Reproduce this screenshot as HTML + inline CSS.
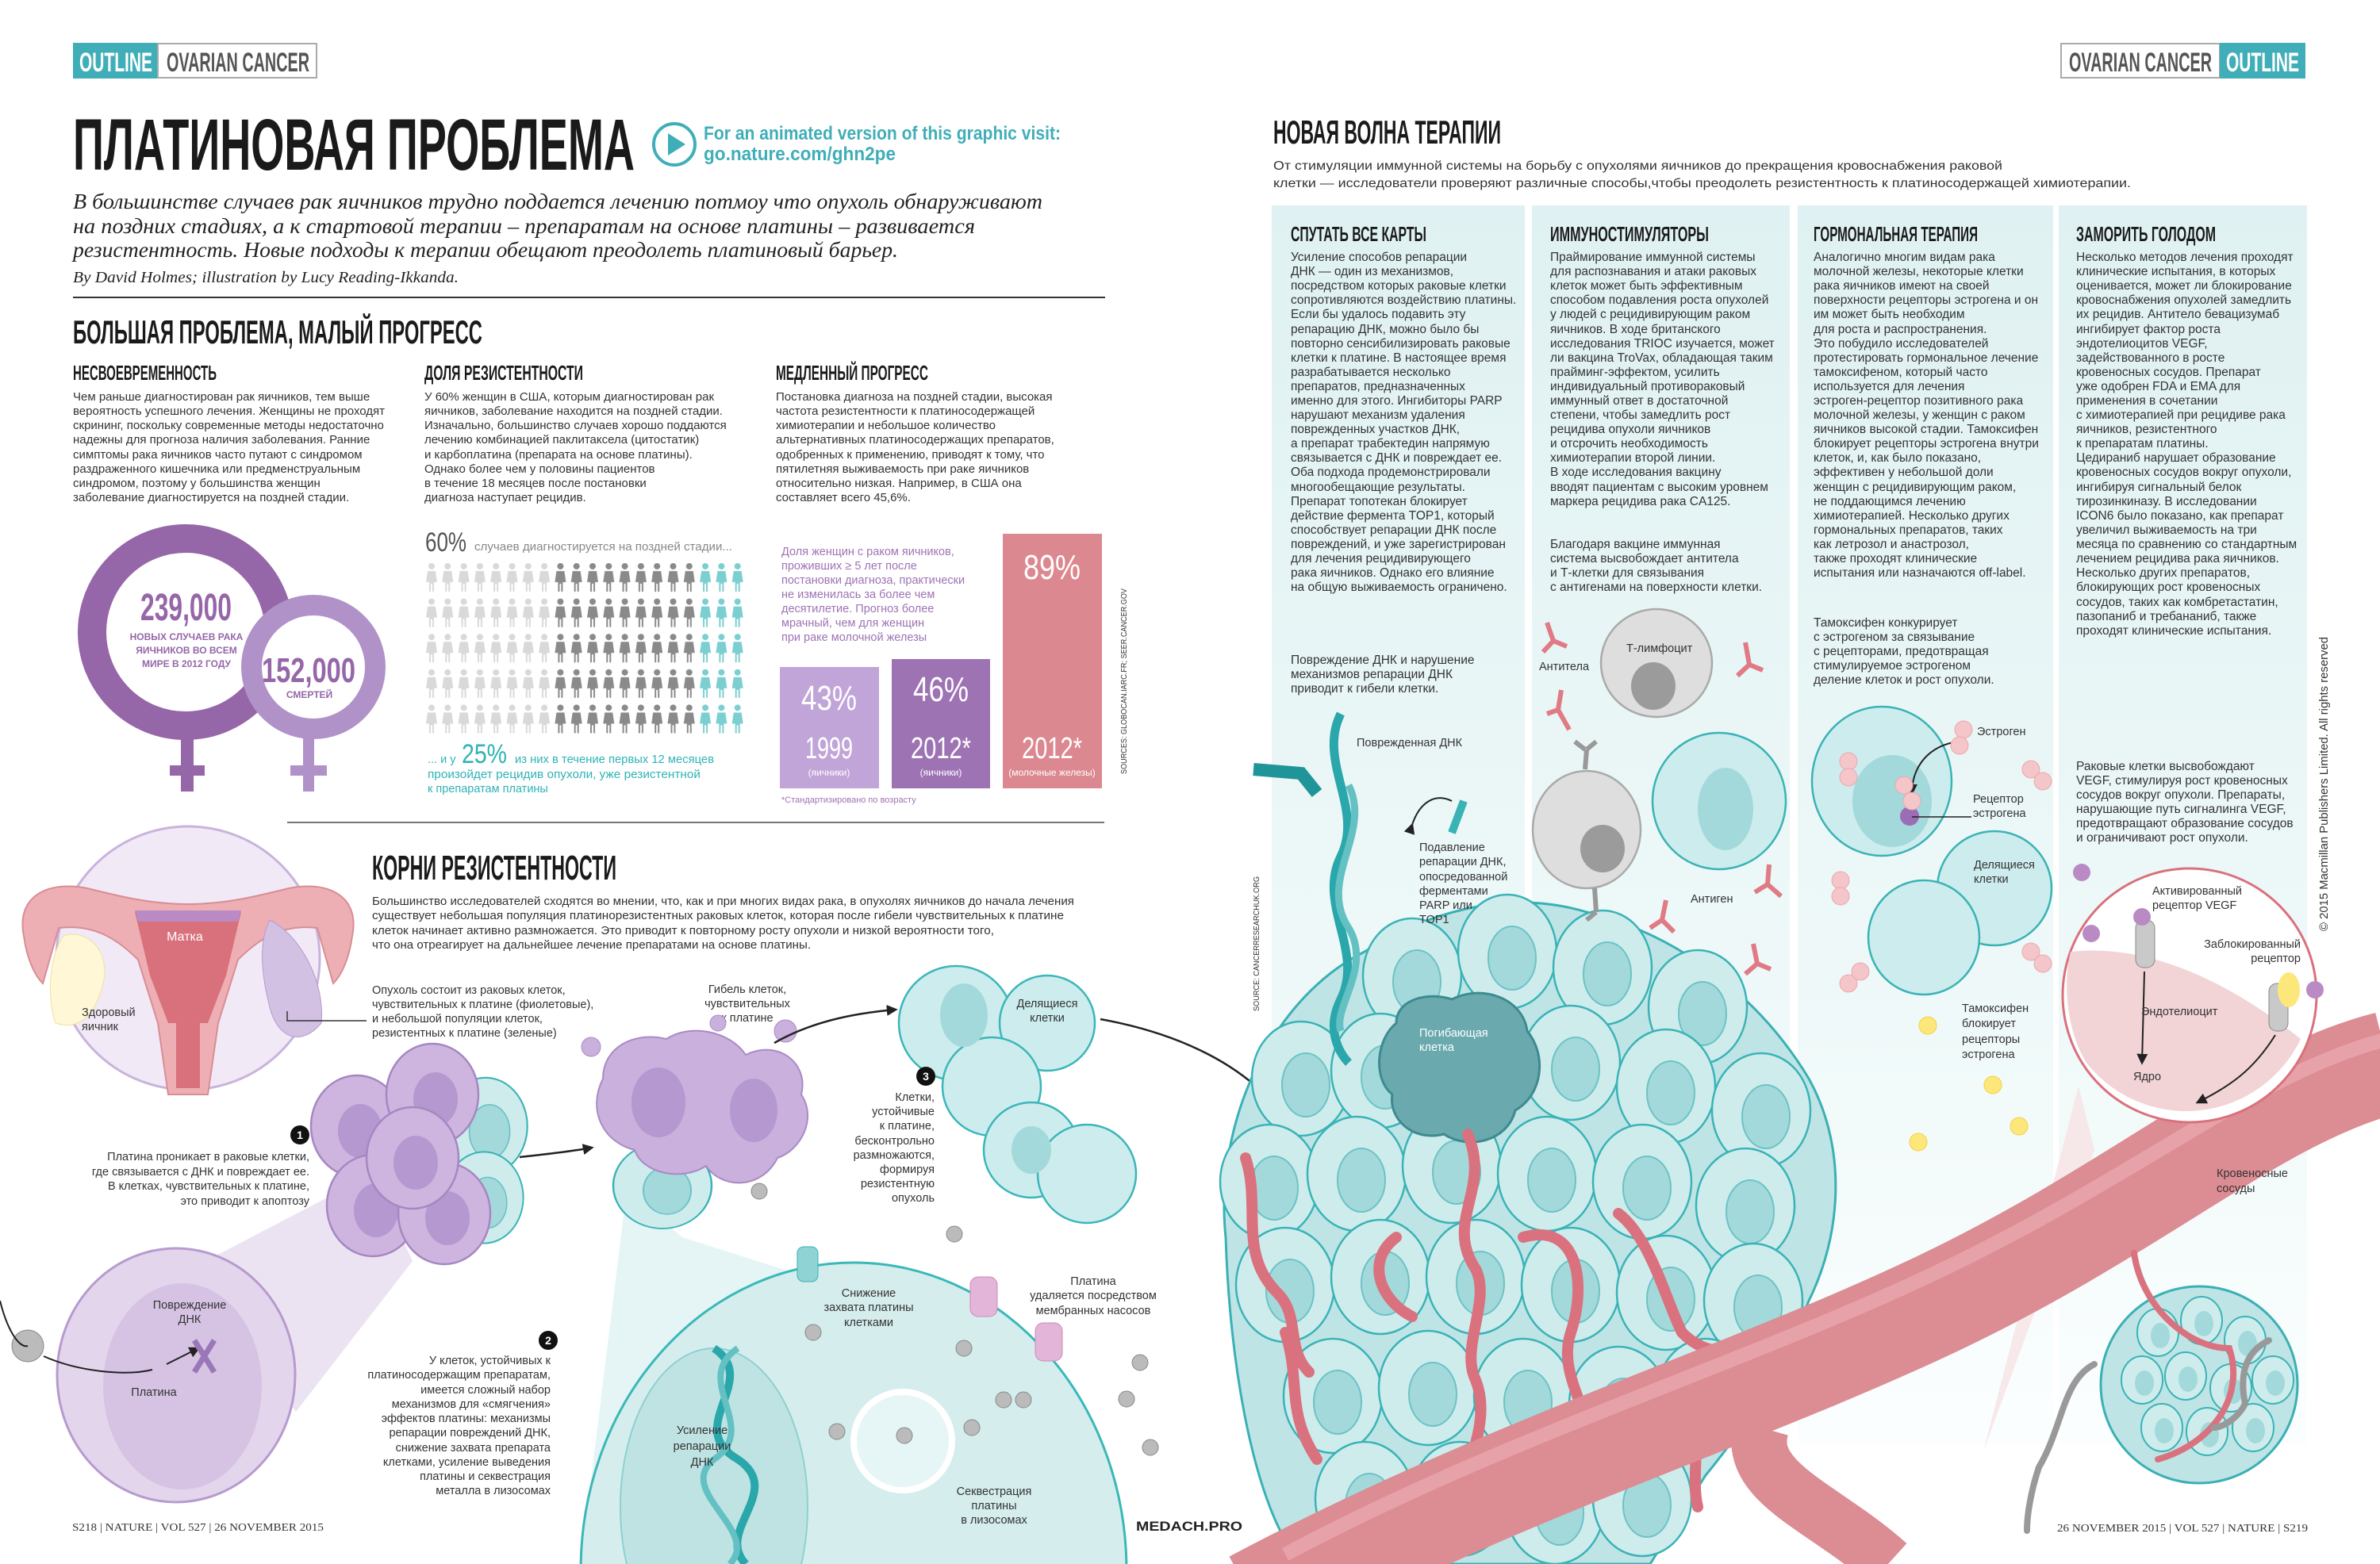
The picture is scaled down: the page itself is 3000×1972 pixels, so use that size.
<!DOCTYPE html>
<html><head><meta charset="utf-8"><style>
html,body{margin:0;padding:0;background:#fff;width:3000px;height:1972px;overflow:hidden}
svg{display:block}
.n{font-family:"Liberation Sans Narrow","Liberation Sans",sans-serif}
.s{font-family:"Liberation Serif",serif}
.t{font-size:15px;fill:#333}
.p{font-size:15.5px;fill:#333}
.h{font-weight:bold;fill:#1a1a1a}
.l{font-size:14.5px;fill:#333}
</style></head><body>
<svg width="3000" height="1972" viewBox="0 0 3000 1972" xmlns="http://www.w3.org/2000/svg">
<defs>
<linearGradient id="pg" x1="0" y1="0" x2="0" y2="1"><stop offset="0" stop-color="#dff1f2"/><stop offset="0.6" stop-color="#eef8f8"/><stop offset="1" stop-color="#fbfefe"/></linearGradient>
<pattern id="pl" x="536" y="710" width="20.3" height="44.6" patternUnits="userSpaceOnUse"><circle cx="8" cy="4" r="4" fill="#d9d9d9"/><path d="M3,10 L13,10 L15,24 L11,24 L11,36 L9,36 L9,26 L7,26 L7,36 L5,36 L5,24 L1,24 Z" fill="#d9d9d9"/></pattern>
<pattern id="pd" x="536" y="710" width="20.3" height="44.6" patternUnits="userSpaceOnUse"><circle cx="8" cy="4" r="4" fill="#8a8a8a"/><path d="M3,10 L13,10 L15,24 L11,24 L11,36 L9,36 L9,26 L7,26 L7,36 L5,36 L5,24 L1,24 Z" fill="#8a8a8a"/></pattern>
<pattern id="pt" x="536" y="710" width="20.3" height="44.6" patternUnits="userSpaceOnUse"><circle cx="8" cy="4" r="4" fill="#7ccfd0"/><path d="M3,10 L13,10 L15,24 L11,24 L11,36 L9,36 L9,26 L7,26 L7,36 L5,36 L5,24 L1,24 Z" fill="#7ccfd0"/></pattern>
<g id="cell"><ellipse cx="0" cy="0" rx="62" ry="72" fill="#cfeced" stroke="#3ab3b6" stroke-width="2.5"/><ellipse cx="6" cy="8" rx="30" ry="40" fill="#a3d9da" stroke="#6cc3c5" stroke-width="2"/></g>
<g id="scell"><ellipse cx="0" cy="0" rx="26" ry="30" fill="#cfeced" stroke="#3ab3b6" stroke-width="2"/><ellipse cx="3" cy="4" rx="12" ry="16" fill="#a3d9da"/></g>
<g id="pcell"><ellipse cx="0" cy="0" rx="58" ry="64" fill="#cdb5df" stroke="#a687c2" stroke-width="2.5"/><ellipse cx="4" cy="6" rx="28" ry="34" fill="#b598cf"/></g>
<marker id="ar" viewBox="0 0 10 10" markerWidth="14" markerHeight="14" refX="8" refY="5" orient="auto" markerUnits="userSpaceOnUse"><path d="M0,0 L10,5 L0,10 Z" fill="#222"/></marker>
</defs>

<!-- ============ LEFT PAGE ============ -->
<rect x="92" y="54" width="107" height="45" fill="#40aeb8"/>
<rect x="199" y="55" width="200" height="43" fill="#fff" stroke="#aaa" stroke-width="2"/>
<text x="100" y="90" class="n" font-size="34" font-weight="bold" fill="#fff" textLength="92" lengthAdjust="spacingAndGlyphs">OUTLINE</text>
<text x="210" y="90" class="n" font-size="34" font-weight="bold" fill="#555" textLength="180" lengthAdjust="spacingAndGlyphs">OVARIAN CANCER</text>

<text x="92" y="214" class="n h" font-size="92" textLength="708" lengthAdjust="spacingAndGlyphs">ПЛАТИНОВАЯ ПРОБЛЕМА</text>
<circle cx="850" cy="182" r="26" fill="none" stroke="#40aeb8" stroke-width="4"/>
<path d="M842,168 L864,182 L842,196 Z" fill="#40aeb8"/>
<text x="887" y="176" class="n" font-size="24" font-weight="bold" fill="#40aeb8" textLength="450" lengthAdjust="spacingAndGlyphs">For an animated version of this graphic visit:</text>
<text x="887" y="202" class="n" font-size="24" font-weight="bold" fill="#40aeb8" textLength="242" lengthAdjust="spacingAndGlyphs">go.nature.com/ghn2pe</text>

<g class="s" font-style="italic" font-size="27" fill="#222">
<text x="92" y="263" textLength="1222" lengthAdjust="spacingAndGlyphs">В большинстве случаев рак яичников трудно поддается лечению потмоу что опухоль обнаруживают</text>
<text x="92" y="294" textLength="1137" lengthAdjust="spacingAndGlyphs">на поздних стадиях, а к стартовой терапии – препаратам на основе платины – развивается</text>
<text x="92" y="324" textLength="1040" lengthAdjust="spacingAndGlyphs">резистентность. Новые подходы к терапии обещают преодолеть платиновый барьер.</text>
<text x="92" y="356" font-size="20" textLength="486" lengthAdjust="spacingAndGlyphs">By David Holmes; illustration by Lucy Reading-Ikkanda.</text>
</g>
<line x1="92" y1="375" x2="1393" y2="375" stroke="#333" stroke-width="2"/>
<text x="92" y="433" class="n h" font-size="42" textLength="516" lengthAdjust="spacingAndGlyphs">БОЛЬШАЯ ПРОБЛЕМА, МАЛЫЙ ПРОГРЕСС</text>
<text x="92" y="479" class="n h" font-size="26" textLength="181" lengthAdjust="spacingAndGlyphs">НЕСВОЕВРЕМЕННОСТЬ</text>
<text x="535" y="479" class="n h" font-size="26" textLength="200" lengthAdjust="spacingAndGlyphs">ДОЛЯ РЕЗИСТЕНТНОСТИ</text>
<text x="978" y="479" class="n h" font-size="26" textLength="192" lengthAdjust="spacingAndGlyphs">МЕДЛЕННЫЙ ПРОГРЕСС</text>

<g class="n t">
<text x="92" y="505">Чем раньше диагностирован рак яичников, тем выше</text>
<text x="92" y="523">вероятность успешного лечения. Женщины не проходят</text>
<text x="92" y="541">скрининг, поскольку современные методы недостаточно</text>
<text x="92" y="559">надежны для прогноза наличия заболевания. Ранние</text>
<text x="92" y="578">симптомы рака яичников часто путают с синдромом</text>
<text x="92" y="596">раздраженного кишечника или предменструальным</text>
<text x="92" y="614">синдромом, поэтому у большинства женщин</text>
<text x="92" y="632">заболевание диагностируется на поздней стадии.</text>
<text x="535" y="505">У 60% женщин в США, которым диагностирован рак</text>
<text x="535" y="523">яичников, заболевание находится на поздней стадии.</text>
<text x="535" y="541">Изначально, большинство случаев хорошо поддаются</text>
<text x="535" y="559">лечению комбинацией паклитаксела (цитостатик)</text>
<text x="535" y="578">и карбоплатина (препарата на основе платины).</text>
<text x="535" y="596">Однако более чем у половины пациентов</text>
<text x="535" y="614">в течение 18 месяцев после постановки</text>
<text x="535" y="632">диагноза наступает рецидив.</text>
<text x="978" y="505">Постановка диагноза на поздней стадии, высокая</text>
<text x="978" y="523">частота резистентности к платиносодержащей</text>
<text x="978" y="541">химиотерапии и небольшое количество</text>
<text x="978" y="559">альтернативных платиносодержащих препаратов,</text>
<text x="978" y="578">одобренных к применению, приводят к тому, что</text>
<text x="978" y="596">пятилетняя выживаемость при раке яичников</text>
<text x="978" y="614">относительно низкая. Например, в США она</text>
<text x="978" y="632">составляет всего 45,6%.</text>
</g>

<!-- female symbols -->
<rect x="228" y="930" width="16" height="68" fill="#9566a8"/>
<rect x="214" y="965" width="44" height="13" fill="#9566a8"/>
<circle cx="234" cy="797" r="118" fill="#fff" stroke="#9566a8" stroke-width="36"/>
<rect x="382" y="930" width="14" height="68" fill="#b192c8"/>
<rect x="366" y="965" width="46" height="13" fill="#b192c8"/>
<circle cx="395" cy="841" r="78" fill="#fff" stroke="#b192c8" stroke-width="26"/>
<text x="177" y="782" class="n" font-size="48" font-weight="bold" fill="#9566a8" textLength="115" lengthAdjust="spacingAndGlyphs">239,000</text>
<g class="n" font-size="12" font-weight="bold" fill="#9566a8" text-anchor="middle">
<text x="235" y="807">НОВЫХ СЛУЧАЕВ РАКА</text><text x="235" y="824">ЯИЧНИКОВ ВО ВСЕМ</text><text x="235" y="841">МИРЕ В 2012 ГОДУ</text>
<text x="390" y="880">СМЕРТЕЙ</text></g>
<text x="330" y="860" class="n" font-size="44" font-weight="bold" fill="#9566a8" textLength="118" lengthAdjust="spacingAndGlyphs">152,000</text>

<!-- people -->
<text x="536" y="695" class="n" font-size="34" fill="#555" textLength="52" lengthAdjust="spacingAndGlyphs">60%</text>
<text x="598" y="694" class="n l" style="fill:#888" textLength="325" lengthAdjust="spacingAndGlyphs">случаев диагностируется на поздней стадии...</text>
<rect x="536" y="710" width="162.4" height="223" fill="url(#pl)"/>
<rect x="698.4" y="710" width="182.7" height="223" fill="url(#pd)"/>
<rect x="881.1" y="710" width="60.9" height="223" fill="url(#pt)"/>
<text x="539" y="962" class="n l" style="fill:#2fb3b5">... и у</text>
<text x="582" y="962" class="n" font-size="34" fill="#2fb3b5" textLength="57" lengthAdjust="spacingAndGlyphs">25%</text>
<text x="649" y="962" class="n l" style="fill:#2fb3b5" textLength="251" lengthAdjust="spacingAndGlyphs">из них в течение первых 12 месяцев</text>
<text x="539" y="981" class="n l" style="fill:#2fb3b5" textLength="344" lengthAdjust="spacingAndGlyphs">произойдет рецидив опухоли, уже резистентной</text>
<text x="539" y="999" class="n l" style="fill:#2fb3b5">к препаратам платины</text>

<!-- bars -->
<g class="n l" style="fill:#9e73b4">
<text x="985" y="700">Доля женщин с раком яичников,</text><text x="985" y="718">проживших ≥ 5 лет после</text><text x="985" y="736">постановки диагноза, практически</text><text x="985" y="754">не изменилась за более чем</text><text x="985" y="772">десятилетие. Прогноз более</text><text x="985" y="790">мрачный, чем для женщин</text><text x="985" y="808">при раке молочной железы</text></g>
<rect x="983" y="841" width="125" height="153" fill="#c1a5d8"/>
<rect x="1124" y="831" width="124" height="163" fill="#9e73b4"/>
<rect x="1264" y="673" width="125" height="321" fill="#dc8890"/>
<g class="n" fill="#fff" text-anchor="middle" font-size="44">
<text x="1045" y="895" textLength="70" lengthAdjust="spacingAndGlyphs">43%</text><text x="1186" y="884" textLength="70" lengthAdjust="spacingAndGlyphs">46%</text><text x="1326" y="730" textLength="72" lengthAdjust="spacingAndGlyphs">89%</text>
<text x="1045" y="956" font-size="38" textLength="60" lengthAdjust="spacingAndGlyphs">1999</text><text x="1186" y="956" font-size="38" textLength="76" lengthAdjust="spacingAndGlyphs">2012*</text><text x="1326" y="956" font-size="38" textLength="76" lengthAdjust="spacingAndGlyphs">2012*</text>
<text x="1045" y="978" font-size="12">(яичники)</text><text x="1186" y="978" font-size="12">(яичники)</text><text x="1326" y="978" font-size="12">(молочные железы)</text></g>
<text x="985" y="1012" class="n" font-size="11" fill="#9e73b4">*Стандартизировано по возрасту</text>
<text transform="translate(1420,976) rotate(-90)" class="n" font-size="10" fill="#333" textLength="234" lengthAdjust="spacingAndGlyphs">SOURCES: GLOBOCAN.IARC.FR; SEER.CANCER.GOV</text>
<line x1="362" y1="1037" x2="1392" y2="1037" stroke="#777" stroke-width="2"/>

<!-- uterus -->
<circle cx="237" cy="1208" r="166" fill="#f1e9f6" stroke="#c9b3dc" stroke-width="3"/>
<path d="M30,1180 C20,1130 60,1110 110,1120 C150,1130 190,1140 237,1140 C284,1140 324,1130 364,1120 C414,1110 454,1130 444,1180 C440,1210 430,1230 420,1240 L400,1170 C360,1165 330,1180 300,1210 L275,1290 L262,1380 L212,1380 L199,1290 L174,1210 C144,1180 114,1165 74,1170 L54,1240 C44,1230 34,1210 30,1180 Z" fill="#eeafb4" stroke="#d88d94" stroke-width="2"/>
<path d="M170,1150 L304,1150 L285,1230 L262,1290 L212,1290 L189,1230 Z" fill="#d9717d"/>
<path d="M170,1148 L304,1148 L300,1162 L174,1162 Z" fill="#b98ac4"/>
<rect x="222" y="1290" width="30" height="82" fill="#d9717d"/>
<path d="M80,1180 C110,1170 140,1200 130,1240 C120,1280 100,1300 70,1290 C60,1260 60,1210 80,1180 Z" fill="#fff7d6" stroke="#f0e0a0"/>
<path d="M340,1160 C380,1180 410,1240 405,1290 C380,1320 350,1310 340,1270 C330,1230 325,1190 340,1160 Z" fill="#d3c1e4" stroke="#b79ace"/>
<text x="233" y="1186" class="n" font-size="16" fill="#fff" text-anchor="middle">Матка</text>
<text x="103" y="1281" class="n l">Здоровый</text><text x="103" y="1299" class="n l">яичник</text>
<path d="M362,1275 L362,1287 L462,1287" fill="none" stroke="#333" stroke-width="1.5"/>

<text x="469" y="1109" class="n h" font-size="44" textLength="308" lengthAdjust="spacingAndGlyphs">КОРНИ РЕЗИСТЕНТНОСТИ</text>
<g class="n l">
<text x="469" y="1141" textLength="885" lengthAdjust="spacingAndGlyphs">Большинство исследователей сходятся во мнении, что, как и при многих видах рака, в опухолях яичников до начала лечения</text>
<text x="469" y="1159" textLength="872" lengthAdjust="spacingAndGlyphs">существует небольшая популяция платинорезистентных раковых клеток, которая после гибели чувствительных к платине</text>
<text x="469" y="1178" textLength="784" lengthAdjust="spacingAndGlyphs">клеток начинает активно размножается. Это приводит к повторному росту опухоли и низкой вероятности того,</text>
<text x="469" y="1196" textLength="553" lengthAdjust="spacingAndGlyphs">что она отреагирует на дальнейшее лечение препаратами на основе платины.</text>
<text x="469" y="1253">Опухоль состоит из раковых клеток,</text><text x="469" y="1271">чувствительных к платине (фиолетовые),</text><text x="469" y="1289">и небольшой популяции клеток,</text><text x="469" y="1307">резистентных к платине (зеленые)</text>
</g>
<g class="n l" text-anchor="middle"><text x="942" y="1252">Гибель клеток,</text><text x="942" y="1270">чувствительных</text><text x="942" y="1288">к платине</text></g>

<!-- beams -->
<path d="M470,1480 L520,1590 L373,1780 L240,1600 Z" fill="#e7dcef" opacity="0.8"/>
<path d="M790,1500 L860,1560 L1300,1700 L732,1972 Z" fill="#dff1f1" opacity="0.8"/>

<!-- purple tumor cluster -->
<g>
<use href="#cell" transform="translate(612,1420) scale(0.85)"/>
<use href="#cell" transform="translate(610,1510) scale(0.8)"/>
<use href="#pcell" transform="translate(450,1420)"/>
<use href="#pcell" transform="translate(545,1380)"/>
<use href="#pcell" transform="translate(470,1520)"/>
<use href="#pcell" transform="translate(560,1530)"/>
<use href="#pcell" transform="translate(520,1460)"/>
</g>
<circle cx="378" cy="1431" r="12" fill="#111"/><text x="378" y="1436" font-family="Liberation Sans" font-size="14" font-weight="bold" fill="#fff" text-anchor="middle">1</text>
<g class="n l" text-anchor="end"><text x="390" y="1463">Платина проникает в раковые клетки,</text><text x="390" y="1482">где связывается с ДНК и повреждает ее.</text><text x="390" y="1500">В клетках, чувствительных к платине,</text><text x="390" y="1519">это приводит к апоптозу</text></g>
<path d="M655,1459 C690,1455 720,1452 746,1447" fill="none" stroke="#222" stroke-width="2.5" marker-end="url(#ar)"/>

<!-- dying cluster -->
<use href="#cell" transform="translate(835,1495) scale(1.0,0.75)"/>
<path d="M760,1360 C760,1320 800,1300 840,1310 C870,1290 920,1300 940,1330 C980,1310 1020,1340 1010,1380 C1030,1410 1010,1450 980,1460 C960,1500 910,1500 890,1470 C860,1490 810,1480 800,1450 C760,1440 740,1400 760,1360 Z" fill="#c9b0dd" stroke="#a98bc4" stroke-width="2"/>
<ellipse cx="830" cy="1390" rx="34" ry="44" fill="#b598cf"/><ellipse cx="950" cy="1400" rx="30" ry="40" fill="#b598cf"/>
<circle cx="745" cy="1320" r="12" fill="#c9b0dd" stroke="#a98bc4"/><circle cx="990" cy="1300" r="14" fill="#c9b0dd" stroke="#a98bc4"/><circle cx="905" cy="1290" r="10" fill="#c9b0dd" stroke="#a98bc4"/>
<path d="M976,1315 C1020,1290 1070,1278 1129,1273" fill="none" stroke="#222" stroke-width="2.5" marker-end="url(#ar)"/>

<!-- dividing cells -->
<circle cx="1205" cy="1290" r="72" fill="#cdeced" stroke="#3bb6b9" stroke-width="2.5"/>
<circle cx="1320" cy="1290" r="60" fill="#cdeced" stroke="#3bb6b9" stroke-width="2.5"/>
<circle cx="1250" cy="1370" r="62" fill="#cdeced" stroke="#3bb6b9" stroke-width="2.5"/>
<circle cx="1300" cy="1450" r="60" fill="#cdeced" stroke="#3bb6b9" stroke-width="2.5"/>
<circle cx="1370" cy="1480" r="62" fill="#cdeced" stroke="#3bb6b9" stroke-width="2.5"/>
<ellipse cx="1215" cy="1280" rx="30" ry="40" fill="#a3d9da"/><ellipse cx="1300" cy="1450" rx="25" ry="30" fill="#a3d9da"/>
<text x="1320" y="1270" class="n l" text-anchor="middle">Делящиеся</text><text x="1320" y="1288" class="n l" text-anchor="middle">клетки</text>
<circle cx="1167" cy="1357" r="12" fill="#111"/><text x="1167" y="1362" font-family="Liberation Sans" font-size="14" font-weight="bold" fill="#fff" text-anchor="middle">3</text>
<g class="n l" text-anchor="end"><text x="1178" y="1388">Клетки,</text><text x="1178" y="1406">устойчивые</text><text x="1178" y="1424">к платине,</text><text x="1178" y="1443">бесконтрольно</text><text x="1178" y="1461">размножаются,</text><text x="1178" y="1479">формируя</text><text x="1178" y="1497">резистентную</text><text x="1178" y="1515">опухоль</text></g>
<path d="M1387,1285 C1470,1300 1540,1330 1588,1374" fill="none" stroke="#222" stroke-width="2.5" marker-end="url(#ar)"/>

<!-- big teal cell -->
<ellipse cx="1076" cy="1980" rx="344" ry="388" fill="#d5eded" stroke="#3ab8b8" stroke-width="3"/>
<ellipse cx="900" cy="1900" rx="118" ry="200" fill="#bfe3e3" stroke="#8fd0d0" stroke-width="2"/>
<path d="M900,1700 C960,1740 860,1800 930,1840 C990,1880 900,1930 940,1972" fill="none" stroke="#2aa7ab" stroke-width="10"/>
<path d="M930,1700 C870,1740 960,1800 900,1840 C850,1880 960,1930 920,1972" fill="none" stroke="#64c1c3" stroke-width="8"/>
<circle cx="1138" cy="1817" r="62" fill="#e6f5f5" stroke="#fff" stroke-width="8"/>
<rect x="1005" y="1572" width="26" height="44" rx="8" fill="#8fd3d4" stroke="#3ab3b6"/>
<rect x="1223" y="1610" width="34" height="50" rx="10" fill="#e2b5d9" stroke="#c98bbb"/>
<rect x="1305" y="1668" width="34" height="48" rx="10" fill="#e2b5d9" stroke="#c98bbb"/>
<g fill="#bbb" stroke="#888"><circle cx="957" cy="1502" r="10"/><circle cx="1025" cy="1680" r="10"/><circle cx="1055" cy="1805" r="10"/><circle cx="1215" cy="1700" r="10"/><circle cx="1265" cy="1765" r="10"/><circle cx="1225" cy="1800" r="10"/><circle cx="1290" cy="1765" r="10"/><circle cx="1203" cy="1556" r="10"/><circle cx="1437" cy="1718" r="10"/><circle cx="1420" cy="1764" r="10"/><circle cx="1450" cy="1825" r="10"/><circle cx="1140" cy="1810" r="10"/><circle cx="35" cy="1697" r="20"/><circle cx="192" cy="1727" r="12"/></g>
<g class="n l" text-anchor="middle"><text x="1095" y="1635">Снижение</text><text x="1095" y="1653">захвата платины</text><text x="1095" y="1672">клетками</text>
<text x="1378" y="1620">Платина</text><text x="1378" y="1638">удаляется посредством</text><text x="1378" y="1657">мембранных насосов</text>
<text x="885" y="1808">Усиление</text><text x="885" y="1828">репарации</text><text x="885" y="1848">ДНК</text>
<text x="1253" y="1885">Секвестрация</text><text x="1253" y="1903">платины</text><text x="1253" y="1921">в лизосомах</text></g>
<circle cx="691" cy="1690" r="12" fill="#111"/><text x="691" y="1695" font-family="Liberation Sans" font-size="14" font-weight="bold" fill="#fff" text-anchor="middle">2</text>
<g class="n l" text-anchor="end"><text x="694" y="1720">У клеток, устойчивых к</text><text x="694" y="1738">платиносодержащим препаратам,</text><text x="694" y="1757">имеется сложный набор</text><text x="694" y="1775">механизмов для «смягчения»</text><text x="694" y="1793">эффектов платины: механизмы</text><text x="694" y="1811">репарации повреждений ДНК,</text><text x="694" y="1830">снижение захвата препарата</text><text x="694" y="1848">клетками, усиление выведения</text><text x="694" y="1866">платины и секвестрация</text><text x="694" y="1884">металла в лизосомах</text></g>

<!-- purple cell bottom-left -->
<ellipse cx="222" cy="1734" rx="150" ry="160" fill="#e2d5ec" stroke="#b79ace" stroke-width="3"/>
<ellipse cx="230" cy="1748" rx="100" ry="130" fill="#d6c3e4"/>
<path d="M0,1640 C10,1680 25,1700 35,1697 M55,1710 C100,1730 160,1735 192,1727" fill="none" stroke="#222" stroke-width="2"/>
<path d="M210,1720 L250,1700" stroke="#222" stroke-width="2" marker-end="url(#ar)"/>
<path d="M245,1690 L270,1730 M270,1690 L245,1730" stroke="#9a78b7" stroke-width="7"/>
<g class="n l" text-anchor="middle"><text x="239" y="1650">Повреждение</text><text x="239" y="1668">ДНК</text><text x="194" y="1760">Платина</text></g>

<text x="91" y="1930" class="s" font-size="14" fill="#333" textLength="317" lengthAdjust="spacingAndGlyphs">S218 | NATURE | VOL 527 | 26 NOVEMBER 2015</text>

<!-- ============ RIGHT PAGE ============ -->
<rect x="2598" y="55" width="200" height="43" fill="#fff" stroke="#aaa" stroke-width="2"/>
<rect x="2798" y="54" width="108" height="45" fill="#40aeb8"/>
<text x="2608" y="90" class="n" font-size="34" font-weight="bold" fill="#555" textLength="180" lengthAdjust="spacingAndGlyphs">OVARIAN CANCER</text>
<text x="2806" y="90" class="n" font-size="34" font-weight="bold" fill="#fff" textLength="92" lengthAdjust="spacingAndGlyphs">OUTLINE</text>
<text x="1605" y="181" class="n h" font-size="42" textLength="287" lengthAdjust="spacingAndGlyphs">НОВАЯ ВОЛНА ТЕРАПИИ</text>
<text x="1605" y="214" class="n p" textLength="919" lengthAdjust="spacingAndGlyphs">От стимуляции иммунной системы на борьбу с опухолями яичников до прекращения кровоснабжения раковой</text>
<text x="1605" y="236" class="n p" textLength="1081" lengthAdjust="spacingAndGlyphs">клетки — исследователи проверяют различные способы,чтобы преодолеть резистентность к платиносодержащей химиотерапии.</text>

<rect x="1603" y="259" width="319" height="1560" fill="url(#pg)"/>
<rect x="1931" y="259" width="325" height="1560" fill="url(#pg)"/>
<rect x="2266" y="259" width="322" height="1560" fill="url(#pg)"/>
<rect x="2595" y="259" width="313" height="1560" fill="url(#pg)"/>
<text x="1627" y="304" class="n h" font-size="26" textLength="171" lengthAdjust="spacingAndGlyphs">СПУТАТЬ ВСЕ КАРТЫ</text>
<text x="1954" y="304" class="n h" font-size="26" textLength="200" lengthAdjust="spacingAndGlyphs">ИММУНОСТИМУЛЯТОРЫ</text>
<text x="2286" y="304" class="n h" font-size="26" textLength="207" lengthAdjust="spacingAndGlyphs">ГОРМОНАЛЬНАЯ ТЕРАПИЯ</text>
<text x="2617" y="304" class="n h" font-size="26" textLength="176" lengthAdjust="spacingAndGlyphs">ЗАМОРИТЬ ГОЛОДОМ</text>

<g class="n p">
<text x="1627" y="329">Усиление способов репарации</text>
<text x="1627" y="347">ДНК — один из механизмов,</text>
<text x="1627" y="365">посредством которых раковые клетки</text>
<text x="1627" y="383">сопротивляются воздействию платины.</text>
<text x="1627" y="401">Если бы удалось подавить эту</text>
<text x="1627" y="420">репарацию ДНК, можно было бы</text>
<text x="1627" y="438">повторно сенсибилизировать раковые</text>
<text x="1627" y="456">клетки к платине. В настоящее время</text>
<text x="1627" y="474">разрабатывается несколько</text>
<text x="1627" y="492">препаратов, предназначенных</text>
<text x="1627" y="510">именно для этого. Ингибиторы PARP</text>
<text x="1627" y="528">нарушают механизм удаления</text>
<text x="1627" y="546">поврежденных участков ДНК,</text>
<text x="1627" y="564">а препарат трабектедин напрямую</text>
<text x="1627" y="582">связывается с ДНК и повреждает ее.</text>
<text x="1627" y="600">Оба подхода продемонстрировали</text>
<text x="1627" y="619">многообещающие результаты.</text>
<text x="1627" y="637">Препарат топотекан блокирует</text>
<text x="1627" y="655">действие фермента TOP1, который</text>
<text x="1627" y="673">способствует репарации ДНК после</text>
<text x="1627" y="691">повреждений, и уже зарегистрирован</text>
<text x="1627" y="709">для лечения рецидивирующего</text>
<text x="1627" y="727">рака яичников. Однако его влияние</text>
<text x="1627" y="745">на общую выживаемость ограничено.</text>

<text x="1954" y="329">Праймирование иммунной системы</text>
<text x="1954" y="347">для распознавания и атаки раковых</text>
<text x="1954" y="365">клеток может быть эффективным</text>
<text x="1954" y="383">способом подавления роста опухолей</text>
<text x="1954" y="401">у людей с рецидивирующим раком</text>
<text x="1954" y="420">яичников. В ходе британского</text>
<text x="1954" y="438">исследования TRIOC изучается, может</text>
<text x="1954" y="456">ли вакцина TroVax, обладающая таким</text>
<text x="1954" y="474">прайминг-эффектом, усилить</text>
<text x="1954" y="492">индивидуальный противораковый</text>
<text x="1954" y="510">иммунный ответ в достаточной</text>
<text x="1954" y="528">степени, чтобы замедлить рост</text>
<text x="1954" y="546">рецидива опухоли яичников</text>
<text x="1954" y="564">и отсрочить необходимость</text>
<text x="1954" y="582">химиотерапии второй линии.</text>
<text x="1954" y="600">В ходе исследования вакцину</text>
<text x="1954" y="619">вводят пациентам с высоким уровнем</text>
<text x="1954" y="637">маркера рецидива рака CA125.</text>
<text x="1954" y="691">Благодаря вакцине иммунная</text>
<text x="1954" y="709">система высвобождает антитела</text>
<text x="1954" y="727">и Т-клетки для связывания</text>
<text x="1954" y="745">с антигенами на поверхности клетки.</text>

<text x="2286" y="329">Аналогично многим видам рака</text>
<text x="2286" y="347">молочной железы, некоторые клетки</text>
<text x="2286" y="365">рака яичников имеют на своей</text>
<text x="2286" y="383">поверхности рецепторы эстрогена и он</text>
<text x="2286" y="401">им может быть необходим</text>
<text x="2286" y="420">для роста и распространения.</text>
<text x="2286" y="438">Это побудило исследователей</text>
<text x="2286" y="456">протестировать гормональное лечение</text>
<text x="2286" y="474">тамоксифеном, который часто</text>
<text x="2286" y="492">используется для лечения</text>
<text x="2286" y="510">эстроген-рецептор позитивного рака</text>
<text x="2286" y="528">молочной железы, у женщин с раком</text>
<text x="2286" y="546">яичников высокой стадии. Тамоксифен</text>
<text x="2286" y="564">блокирует рецепторы эстрогена внутри</text>
<text x="2286" y="582">клеток, и, как было показано,</text>
<text x="2286" y="600">эффективен у небольшой доли</text>
<text x="2286" y="619">женщин с рецидивирующим раком,</text>
<text x="2286" y="637">не поддающимся лечению</text>
<text x="2286" y="655">химиотерапией. Несколько других</text>
<text x="2286" y="673">гормональных препаратов, таких</text>
<text x="2286" y="691">как летрозол и анастрозол,</text>
<text x="2286" y="709">также проходят клинические</text>
<text x="2286" y="727">испытания или назначаются off-label.</text>
<text x="2286" y="790">Тамоксифен конкурирует</text>
<text x="2286" y="808">с эстрогеном за связывание</text>
<text x="2286" y="826">с рецепторами, предотвращая</text>
<text x="2286" y="844">стимулируемое эстрогеном</text>
<text x="2286" y="862">деление клеток и рост опухоли.</text>

<text x="2617" y="329">Несколько методов лечения проходят</text>
<text x="2617" y="347">клинические испытания, в которых</text>
<text x="2617" y="365">оценивается, может ли блокирование</text>
<text x="2617" y="383">кровоснабжения опухолей замедлить</text>
<text x="2617" y="401">их рецидив. Антитело бевацизумаб</text>
<text x="2617" y="420">ингибирует фактор роста</text>
<text x="2617" y="438">эндотелиоцитов VEGF,</text>
<text x="2617" y="456">задействованного в росте</text>
<text x="2617" y="474">кровеносных сосудов. Препарат</text>
<text x="2617" y="492">уже одобрен FDA и EMA для</text>
<text x="2617" y="510">применения в сочетании</text>
<text x="2617" y="528">с химиотерапией при рецидиве рака</text>
<text x="2617" y="546">яичников, резистентного</text>
<text x="2617" y="564">к препаратам платины.</text>
<text x="2617" y="582">Цедираниб нарушает образование</text>
<text x="2617" y="600">кровеносных сосудов вокруг опухоли,</text>
<text x="2617" y="619">ингибируя сигнальный белок</text>
<text x="2617" y="637">тирозинкиназу. В исследовании</text>
<text x="2617" y="655">ICON6 было показано, как препарат</text>
<text x="2617" y="673">увеличил выживаемость на три</text>
<text x="2617" y="691">месяца по сравнению со стандартным</text>
<text x="2617" y="709">лечением рецидива рака яичников.</text>
<text x="2617" y="727">Несколько других препаратов,</text>
<text x="2617" y="745">блокирующих рост кровеносных</text>
<text x="2617" y="764">сосудов, таких как комбретастатин,</text>
<text x="2617" y="782">пазопаниб и требананиб, также</text>
<text x="2617" y="800">проходят клинические испытания.</text>
<text x="2617" y="971">Раковые клетки высвобождают</text>
<text x="2617" y="989">VEGF, стимулируя рост кровеносных</text>
<text x="2617" y="1007">сосудов вокруг опухоли. Препараты,</text>
<text x="2617" y="1025">нарушающие путь сигналинга VEGF,</text>
<text x="2617" y="1043">предотвращают образование сосудов</text>
<text x="2617" y="1061">и ограничивают рост опухоли.</text>

<text x="1627" y="837">Повреждение ДНК и нарушение</text>
<text x="1627" y="855">механизмов репарации ДНК</text>
<text x="1627" y="873">приводит к гибели клетки.</text>
</g>

<text transform="translate(2934,1174) rotate(-90)" font-family="Liberation Sans" font-size="15" fill="#333" textLength="371" lengthAdjust="spacingAndGlyphs">© 2015 Macmillan Publishers Limited. All rights reserved</text>
<text transform="translate(1587,1275) rotate(-90)" font-family="Liberation Sans" font-size="10" fill="#333" textLength="170" lengthAdjust="spacingAndGlyphs">SOURCE: CANCERRESEARCHUK.ORG</text>

<!-- tumor -->
<path d="M1545,1560 C1530,1420 1600,1260 1720,1200 C1800,1150 1900,1120 2000,1150 C2120,1180 2220,1260 2280,1360 C2330,1450 2320,1560 2280,1640 C2250,1720 2200,1800 2150,1860 L2080,1972 L1640,1972 C1580,1900 1550,1720 1545,1560 Z" fill="#bfe4e6" stroke="#3ab0b5" stroke-width="3"/>
<g>
<use href="#cell" transform="translate(1780,1230)"/><use href="#cell" transform="translate(1900,1200)"/><use href="#cell" transform="translate(2020,1220)"/><use href="#cell" transform="translate(2140,1270)"/>
<use href="#cell" transform="translate(1640,1360)"/><use href="#cell" transform="translate(1740,1350)"/><use href="#cell" transform="translate(1860,1340)"/><use href="#cell" transform="translate(1980,1340)"/><use href="#cell" transform="translate(2100,1370)"/><use href="#cell" transform="translate(2220,1400)"/>
<use href="#cell" transform="translate(1600,1490)"/><use href="#cell" transform="translate(1710,1480)"/><use href="#cell" transform="translate(1830,1470)"/><use href="#cell" transform="translate(1950,1480)"/><use href="#cell" transform="translate(2070,1490)"/><use href="#cell" transform="translate(2200,1520)"/>
<use href="#cell" transform="translate(1620,1620)"/><use href="#cell" transform="translate(1740,1610)"/><use href="#cell" transform="translate(1860,1610)"/><use href="#cell" transform="translate(1980,1620)"/><use href="#cell" transform="translate(2100,1630)"/><use href="#cell" transform="translate(2210,1640)"/>
<use href="#cell" transform="translate(1680,1760)"/><use href="#cell" transform="translate(1800,1750)"/><use href="#cell" transform="translate(1920,1760)"/><use href="#cell" transform="translate(2040,1770)"/><use href="#cell" transform="translate(2150,1760)"/>
<use href="#cell" transform="translate(1720,1890)"/><use href="#cell" transform="translate(1840,1890)"/><use href="#cell" transform="translate(1960,1900)"/><use href="#cell" transform="translate(2070,1890)"/>
</g>
<path d="M1760,1290 C1760,1260 1800,1250 1830,1260 C1870,1240 1920,1260 1925,1300 C1950,1330 1945,1380 1910,1400 C1900,1440 1850,1450 1820,1430 C1780,1440 1750,1410 1755,1380 C1730,1360 1735,1310 1760,1290 Z" fill="#6aa9ae" stroke="#3d8b90" stroke-width="3"/>
<text x="1789" y="1307" class="n l" style="fill:#fff">Погибающая</text><text x="1789" y="1325" class="n l" style="fill:#fff">клетка</text>
<!-- DNA -->
<path d="M1690,900 C1660,960 1720,1020 1690,1080 C1660,1140 1720,1200 1690,1260 C1670,1300 1690,1330 1700,1340" fill="none" stroke="#2aa7ab" stroke-width="11"/>
<path d="M1700,990 C1730,1050 1660,1110 1700,1170 C1730,1220 1680,1270 1690,1300" fill="none" stroke="#64c1c3" stroke-width="9"/>
<path d="M1580,970 L1640,975 L1660,1000" fill="none" stroke="#1f9599" stroke-width="16"/>
<path d="M1845,1010 L1830,1050" stroke="#3ab3b6" stroke-width="10"/>
<path d="M1780,1040 C1790,1010 1810,1000 1830,1010" fill="none" stroke="#222" stroke-width="2" marker-start="url(#ar)"/>
<!-- red vessels over tumor -->
<g fill="none" stroke="#d9727e" stroke-width="14" stroke-linecap="round">
<path d="M1570,1460 C1590,1520 1560,1580 1610,1630 C1640,1660 1620,1700 1650,1730"/>
<path d="M1850,1430 C1880,1500 1820,1540 1860,1600 C1880,1640 1840,1700 1860,1740 C1880,1790 1850,1860 1820,1900"/>
<path d="M1920,1560 C1990,1540 2000,1620 1980,1680 C1960,1740 2020,1790 2000,1850"/>
<path d="M2040,1530 C2080,1560 2100,1640 2120,1680 C2160,1720 2200,1700 2230,1680"/>
<path d="M1620,1680 C1640,1740 1620,1780 1660,1840"/>
<path d="M1760,1560 C1720,1590 1740,1640 1780,1660"/>
<path d="M2120,1760 C2150,1810 2130,1860 2140,1900"/>
</g>

<!-- big vessel (in front of tumor) -->
<path d="M2620,1370 L2640,1450 L2500,1830 L2570,1560 Z" fill="#f6e2e4" opacity="0.8"/>
<path d="M1580,2020 C1900,1850 2200,1760 2450,1640 C2700,1520 2850,1380 3010,1340" fill="none" stroke="#dc8c93" stroke-width="130"/>
<path d="M1620,1960 C1900,1810 2200,1720 2450,1600 C2700,1480 2850,1350 3010,1310" fill="none" stroke="#e9abb0" stroke-width="18" opacity="0.7"/>
<path d="M2220,1800 C2200,1870 2300,1900 2380,1972" fill="none" stroke="#dc8c93" stroke-width="70"/>

<!-- small tumor -->
<circle cx="2772" cy="1746" r="124" fill="#bfe4e6" stroke="#3ab0b5" stroke-width="3"/>
<g><use href="#scell" transform="translate(2720,1680)"/><use href="#scell" transform="translate(2775,1665)"/><use href="#scell" transform="translate(2830,1690)"/><use href="#scell" transform="translate(2700,1740)"/><use href="#scell" transform="translate(2755,1735)"/><use href="#scell" transform="translate(2812,1750)"/><use href="#scell" transform="translate(2865,1740)"/><use href="#scell" transform="translate(2725,1800)"/><use href="#scell" transform="translate(2782,1805)"/><use href="#scell" transform="translate(2840,1800)"/></g>
<g fill="none" stroke-width="8" stroke-linecap="round"><path d="M2690,1580 C2700,1650 2760,1700 2810,1700 C2830,1760 2790,1820 2720,1840" stroke="#d9727e"/><path d="M2640,1720 C2600,1740 2600,1800 2570,1850 C2560,1880 2555,1910 2555,1930" stroke="#999"/><path d="M2860,1690 C2840,1700 2820,1720 2830,1770 C2820,1790 2800,1800 2790,1800" stroke="#999"/></g>

<!-- immune cells -->
<ellipse cx="2088" cy="836" rx="70" ry="68" fill="#dedede" stroke="#aaa" stroke-width="2.5"/>
<ellipse cx="2084" cy="865" rx="28" ry="30" fill="#9b9b9b"/>
<ellipse cx="2000" cy="1046" rx="68" ry="74" fill="#dedede" stroke="#aaa" stroke-width="2.5"/>
<ellipse cx="2020" cy="1070" rx="28" ry="30" fill="#9b9b9b"/>
<ellipse cx="2167" cy="1010" rx="84" ry="86" fill="#cdeced" stroke="#3ab3b6" stroke-width="2.5"/>
<ellipse cx="2175" cy="1020" rx="35" ry="52" fill="#a3d9da"/>
<g stroke="#e07a85" stroke-width="6" fill="none"><path d="M1950,785 L1958,808 L1945,822 M1958,808 L1975,815"/><path d="M2200,810 L2205,838 L2190,852 M2205,838 L2222,845"/><path d="M1968,870 L1964,895 L1950,900 M1964,895 L1978,920"/><path d="M2230,1090 L2228,1115 L2212,1125 M2228,1115 L2245,1130"/><path d="M2100,1135 L2095,1160 L2080,1170 M2095,1160 L2110,1175"/><path d="M2210,1190 L2215,1215 L2200,1228 M2215,1215 L2232,1222"/></g>
<g stroke="#999" stroke-width="6" fill="none"><path d="M2000,945 L1998,970 M1998,945 L1985,935 M2000,945 L2012,935"/><path d="M2010,1120 L2012,1150 M2012,1150 L2000,1160"/></g>
<g class="n l"><text x="1940" y="845">Антитела</text><text x="2050" y="822">Т-лимфоцит</text><text x="2131" y="1138">Антиген</text><text x="1710" y="941">Поврежденная ДНК</text>
<text x="1789" y="1073">Подавление</text><text x="1789" y="1091">репарации ДНК,</text><text x="1789" y="1110">опосредованной</text><text x="1789" y="1128">ферментами</text><text x="1789" y="1146">PARP или</text><text x="1789" y="1164">TOP1</text></g>

<!-- estrogen cells -->
<ellipse cx="2372" cy="985" rx="88" ry="94" fill="#cdeced" stroke="#3ab3b6" stroke-width="2.5"/>
<ellipse cx="2385" cy="1010" rx="50" ry="58" fill="#a3d9da"/>
<ellipse cx="2514" cy="1120" rx="72" ry="72" fill="#cdeced" stroke="#3ab3b6" stroke-width="2.5"/>
<ellipse cx="2425" cy="1182" rx="70" ry="72" fill="#cdeced" stroke="#3ab3b6" stroke-width="2.5"/>
<circle cx="2407" cy="1029" r="12" fill="#9a6db5"/>
<path d="M2475,935 C2440,935 2410,960 2410,1000" fill="none" stroke="#222" stroke-width="2" marker-end="url(#ar)"/>
<path d="M2410,1030 L2485,1030" stroke="#222" stroke-width="1.5"/>
<g fill="#f4c5c9" stroke="#eaa9ae"><circle cx="2475" cy="920" r="11"/><circle cx="2470" cy="940" r="11"/><circle cx="2330" cy="960" r="11"/><circle cx="2330" cy="980" r="11"/><circle cx="2400" cy="990" r="11"/><circle cx="2410" cy="1010" r="11"/><circle cx="2560" cy="970" r="11"/><circle cx="2575" cy="985" r="11"/><circle cx="2320" cy="1110" r="11"/><circle cx="2320" cy="1130" r="11"/><circle cx="2560" cy="1200" r="11"/><circle cx="2575" cy="1215" r="11"/><circle cx="2330" cy="1240" r="11"/><circle cx="2345" cy="1225" r="11"/></g>
<g fill="#fde77a" stroke="#f2d24a"><circle cx="2430" cy="1293" r="11"/><circle cx="2512" cy="1368" r="11"/><circle cx="2545" cy="1420" r="11"/><circle cx="2418" cy="1440" r="11"/></g>
<g class="n l"><text x="2492" y="927">Эстроген</text><text x="2487" y="1012">Рецептор</text><text x="2487" y="1030">эстрогена</text><text x="2488" y="1095">Делящиеся</text><text x="2488" y="1113">клетки</text>
<text x="2473" y="1276">Тамоксифен</text><text x="2473" y="1295">блокирует</text><text x="2473" y="1315">рецепторы</text><text x="2473" y="1334">эстрогена</text></g>

<!-- VEGF circle -->
<circle cx="2760" cy="1255" r="160" fill="#fff" stroke="#d9717d" stroke-width="3"/>
<path d="M2610,1200 C2700,1190 2800,1230 2900,1310 A160,160 0 0 1 2630,1340 C2605,1300 2600,1240 2610,1200 Z" fill="#f2d3d6"/>
<rect x="2692" y="1160" width="24" height="60" rx="10" fill="#c9c9c9" stroke="#888"/>
<rect x="2860" y="1240" width="24" height="60" rx="10" fill="#c9c9c9" stroke="#888"/>
<ellipse cx="2885" cy="1248" rx="14" ry="22" fill="#fde77a"/>
<g fill="#b98ac4"><circle cx="2636" cy="1177" r="11"/><circle cx="2700" cy="1156" r="11"/><circle cx="2918" cy="1248" r="11"/><circle cx="2624" cy="1100" r="11"/></g>
<path d="M2703,1225 L2700,1340" stroke="#222" stroke-width="2" marker-end="url(#ar)"/>
<path d="M2868,1305 C2840,1350 2810,1370 2770,1390" fill="none" stroke="#222" stroke-width="2" marker-end="url(#ar)"/>
<g class="n l"><text x="2713" y="1128">Активированный</text><text x="2713" y="1146">рецептор VEGF</text><text x="2900" y="1195" text-anchor="end">Заблокированный</text><text x="2900" y="1213" text-anchor="end">рецептор</text><text x="2699" y="1280">Эндотелиоцит</text><text x="2689" y="1362">Ядро</text>
<text x="2794" y="1484">Кровеносные</text><text x="2794" y="1503">сосуды</text></g>

<text x="1432" y="1930" font-family="Liberation Sans" font-size="17" font-weight="bold" fill="#222" textLength="134" lengthAdjust="spacingAndGlyphs">MEDACH.PRO</text>
<text x="2593" y="1931" class="s" font-size="14" fill="#333" textLength="316" lengthAdjust="spacingAndGlyphs">26 NOVEMBER 2015 | VOL 527 | NATURE | S219</text>
</svg>
</body></html>
